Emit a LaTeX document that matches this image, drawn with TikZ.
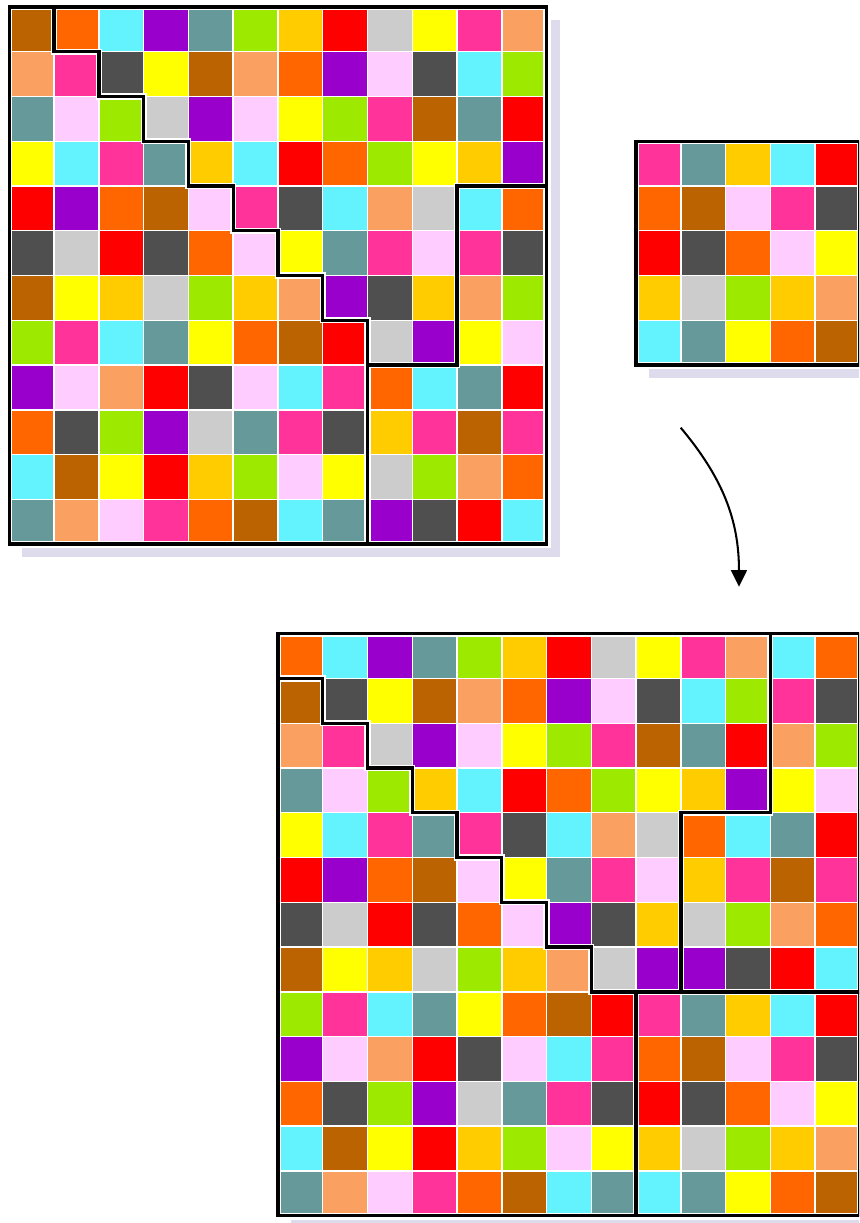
\documentclass[tikz,border=0pt]{standalone}
\usetikzlibrary{arrows.meta}
\definecolor{cBr}{RGB}{187,99,0}
\definecolor{cOr}{RGB}{255,102,0}
\definecolor{cCy}{RGB}{98,243,255}
\definecolor{cPu}{RGB}{153,0,204}
\definecolor{cTe}{RGB}{102,153,153}
\definecolor{cLi}{RGB}{157,233,0}
\definecolor{cGo}{RGB}{255,204,0}
\definecolor{cRe}{RGB}{255,0,0}
\definecolor{cLg}{RGB}{204,204,204}
\definecolor{cYe}{RGB}{255,255,0}
\definecolor{cPk}{RGB}{255,51,153}
\definecolor{cSa}{RGB}{250,160,96}
\definecolor{cDg}{RGB}{79,79,79}
\definecolor{cLp}{RGB}{255,204,255}
\definecolor{shadowc}{RGB}{221,219,236}
\tikzset{
  cell/.style={draw=white, line width=0.9pt},
  halo/.style={draw=white, line width=3.9pt, line join=miter},
  cutline/.style={draw=black, line width=2.1pt, line join=miter},
  shadowbox/.style={fill=shadowc},
  backbox/.style={fill=white},
  flow/.style={line width=1.3pt, -{Triangle[length=10.5pt,width=10pt]}}
}
\newcommand\mygrid[1]{%
  \foreach \rowlist [count=\ri from 0] in {#1} {%
    \foreach \cc [count=\ci from 0] in \rowlist {%
      \filldraw[cell, fill=c\cc] (\ci,-\ri) rectangle ++(1,-1);
    }
  }%
}
\begin{document}
\begin{tikzpicture}
\useasboundingbox (0,0) rectangle (19.187,-27.317);
\clip (0,0) rectangle (19.187,-27.317);

% shadows
\fill[shadowbox] (0.498,-0.444) rectangle ++(12,-12);
\fill[shadowbox] (14.498,-3.444) rectangle ++(5,-5);
\fill[shadowbox] (6.498,-14.444) rectangle ++(13,-13);

% top grid
\begin{scope}[shift={(0.208,-0.154)}]
\fill[backbox] (-0.09,0.09) rectangle (12.09,-12.09);
\mygrid{
{Br,Or,Cy,Pu,Te,Li,Go,Re,Lg,Ye,Pk,Sa},
{Sa,Pk,Dg,Ye,Br,Sa,Or,Pu,Lp,Dg,Cy,Li},
{Te,Lp,Li,Lg,Pu,Lp,Ye,Li,Pk,Br,Te,Re},
{Ye,Cy,Pk,Te,Go,Cy,Re,Or,Li,Ye,Go,Pu},
{Re,Pu,Or,Br,Lp,Pk,Dg,Cy,Sa,Lg,Cy,Or},
{Dg,Lg,Re,Dg,Or,Lp,Ye,Te,Pk,Lp,Pk,Dg},
{Br,Ye,Go,Lg,Li,Go,Sa,Pu,Dg,Go,Sa,Li},
{Li,Pk,Cy,Te,Ye,Or,Br,Re,Lg,Pu,Ye,Lp},
{Pu,Lp,Sa,Re,Dg,Lp,Cy,Pk,Or,Cy,Te,Re},
{Or,Dg,Li,Pu,Lg,Te,Pk,Dg,Go,Pk,Br,Pk},
{Cy,Br,Ye,Re,Go,Li,Lp,Ye,Lg,Li,Sa,Or},
{Te,Sa,Lp,Pk,Or,Br,Cy,Te,Pu,Dg,Re,Cy}}
\foreach \sty in {halo,cutline} {
  \draw[\sty] (0,0) rectangle (12,-12);
  \draw[\sty] (1,0) -- (1,-1) -- (2,-1) -- (2,-2) -- (3,-2) -- (3,-3) -- (4,-3) -- (4,-4)
     -- (5,-4) -- (5,-5) -- (6,-5) -- (6,-6) -- (7,-6) -- (7,-7) -- (8,-7) -- (8,-12);
  \draw[\sty] (8,-8) -- (10,-8) -- (10,-4) -- (12,-4);
}
\end{scope}

% small grid
\begin{scope}[shift={(14.208,-3.154)}]
\fill[backbox] (-0.09,0.09) rectangle (5.09,-5.09);
\mygrid{
{Pk,Te,Go,Cy,Re},
{Or,Br,Lp,Pk,Dg},
{Re,Dg,Or,Lp,Ye},
{Go,Lg,Li,Go,Sa},
{Cy,Te,Ye,Or,Br}}
\foreach \sty in {halo,cutline} {
  \draw[\sty] (0,0) rectangle (5,-5);
}
\end{scope}

% bottom grid
\begin{scope}[shift={(6.208,-14.154)}]
\fill[backbox] (-0.09,0.09) rectangle (13.09,-13.09);
\mygrid{
{Or,Cy,Pu,Te,Li,Go,Re,Lg,Ye,Pk,Sa,Cy,Or},
{Br,Dg,Ye,Br,Sa,Or,Pu,Lp,Dg,Cy,Li,Pk,Dg},
{Sa,Pk,Lg,Pu,Lp,Ye,Li,Pk,Br,Te,Re,Sa,Li},
{Te,Lp,Li,Go,Cy,Re,Or,Li,Ye,Go,Pu,Ye,Lp},
{Ye,Cy,Pk,Te,Pk,Dg,Cy,Sa,Lg,Or,Cy,Te,Re},
{Re,Pu,Or,Br,Lp,Ye,Te,Pk,Lp,Go,Pk,Br,Pk},
{Dg,Lg,Re,Dg,Or,Lp,Pu,Dg,Go,Lg,Li,Sa,Or},
{Br,Ye,Go,Lg,Li,Go,Sa,Lg,Pu,Pu,Dg,Re,Cy},
{Li,Pk,Cy,Te,Ye,Or,Br,Re,Pk,Te,Go,Cy,Re},
{Pu,Lp,Sa,Re,Dg,Lp,Cy,Pk,Or,Br,Lp,Pk,Dg},
{Or,Dg,Li,Pu,Lg,Te,Pk,Dg,Re,Dg,Or,Lp,Ye},
{Cy,Br,Ye,Re,Go,Li,Lp,Ye,Go,Lg,Li,Go,Sa},
{Te,Sa,Lp,Pk,Or,Br,Cy,Te,Cy,Te,Ye,Or,Br}}
\foreach \sty in {halo,cutline} {
  \draw[\sty] (0,0) rectangle (13,-13);
  \draw[\sty] (0,-1) -- (1,-1) -- (1,-2) -- (2,-2) -- (2,-3) -- (3,-3) -- (3,-4) -- (4,-4)
     -- (4,-5) -- (5,-5) -- (5,-6) -- (6,-6) -- (6,-7) -- (7,-7) -- (7,-8) -- (8,-8) -- (8,-13);
  \draw[\sty] (8,-8) -- (13,-8);
  \draw[\sty] (11,0) -- (11,-4) -- (9,-4) -- (9,-8);
}
\end{scope}

% arrow
\coordinate (arrS) at (15.204,-9.553);
\coordinate (arrE) at (16.506,-13.105);
\draw[flow] (arrS) to[out=-50,in=90] (arrE);
\end{tikzpicture}
\end{document}
